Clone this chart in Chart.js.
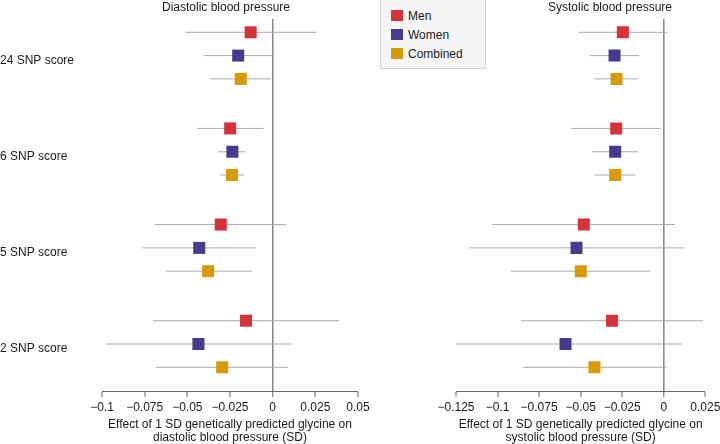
<!DOCTYPE html>
<html>
<head>
<meta charset="utf-8">
<script src="https://cdn.jsdelivr.net/npm/chart.js@4.4.0/dist/chart.umd.min.js"></script>
<style>
  html, body { margin: 0; padding: 0; background: #fff; }
  #wrap { position: relative; width: 720px; height: 444px; overflow: hidden; }
  canvas { position: absolute; top: 0; }
  #dbp { left: 0; }
  #sbp { left: 400px; }
  #legend {
    position: absolute; left: 380px; top: -1px; width: 106px; height: 70px;
    box-sizing: border-box; background: #f5f5f5; border: 1px solid #d6d6d6;
    font: 12px "Liberation Sans", Arial, sans-serif; color: #1a1a1a; z-index: 2;
  }
  .item { position: absolute; left: 10px; height: 14px; line-height: 14px; white-space: nowrap; }
  .sw { position: absolute; left: 0; top: 1px; width: 12px; height: 11px; }
  .lbl { position: absolute; left: 17px; top: 0; }
</style>
</head>
<body>
<div id="wrap">
  <canvas id="dbp" width="452" height="444"></canvas>
  <canvas id="sbp" width="420" height="444"></canvas>
  <div id="legend"></div>
</div>
<script>
const scores = ['24 SNP score', '6 SNP score', '5 SNP score', '2 SNP score'];
const seriesNames = ['Men', 'Women', 'Combined'];
const seriesColors = ['#d5323a', '#463c8f', '#d79b0a'];

// Diastolic blood pressure: estimates and confidence limits, one value per score
const dbpMen = [-0.0129, -0.0249, -0.0304, -0.0156];
const dbpMenLo = [-0.051, -0.0444, -0.069, -0.0702];
const dbpMenHi = [0.0254, -0.0054, 0.008, 0.039];
const dbpWomen = [-0.0202, -0.0236, -0.043, -0.0435];
const dbpWomenLo = [-0.0405, -0.0318, -0.0762, -0.0978];
const dbpWomenHi = [0.0004, -0.0161, -0.0097, 0.0109];
const dbpComb = [-0.0187, -0.0238, -0.0378, -0.0296];
const dbpCombLo = [-0.0364, -0.031, -0.0627, -0.0684];
const dbpCombHi = [-0.001, -0.0167, -0.0123, 0.0088];

// Systolic blood pressure
const sbpMen = [-0.0246, -0.0286, -0.0481, -0.0311];
const sbpMenLo = [-0.0513, -0.0557, -0.1032, -0.0858];
const sbpMenHi = [0.002, -0.0018, 0.0068, 0.0236];
const sbpWomen = [-0.0296, -0.0292, -0.0525, -0.0591];
const sbpWomenLo = [-0.0445, -0.0431, -0.117, -0.129];
const sbpWomenHi = [-0.0148, -0.0156, 0.0124, 0.011];
const sbpComb = [-0.0284, -0.0292, -0.0499, -0.0417];
const sbpCombLo = [-0.0415, -0.0415, -0.092, -0.0846];
const sbpCombHi = [-0.0156, -0.017, -0.008, 0.0016];

const dbpTicks = [-0.1, -0.075, -0.05, -0.025, 0, 0.025, 0.05];
const sbpTicks = [-0.125, -0.1, -0.075, -0.05, -0.025, 0, 0.025];

Chart.defaults.font.family = '"Liberation Sans", Arial, Helvetica, sans-serif';
Chart.defaults.font.size = 12;
Chart.defaults.color = '#1a1a1a';

// row layout: three rows per score, a wider gap between scores
const GROUP_GAP = 4.126;
const rowPos = (g, s) => g * GROUP_GAP + s;

const fmt = v => String(Number(v.toFixed(3))).replace('-', '\u2212');

function makePanel(id, p) {
    const datasets = [];
    // confidence interval whiskers
    seriesNames.forEach((_, s) => {
        scores.forEach((_, g) => {
            datasets.push({
                type: 'line',
                data: [
                    { x: p.lo[s][g], y: rowPos(g, s) },
                    { x: p.hi[s][g], y: rowPos(g, s) }
                ],
                borderColor: '#aaaaaa',
                borderWidth: 1,
                pointRadius: 0,
                fill: false,
                order: 2
            });
        });
    });
    // point estimates
    seriesNames.forEach((name, s) => {
        datasets.push({
            type: 'scatter',
            label: name,
            data: scores.map((_, g) => ({ x: p.est[s][g], y: rowPos(g, s) })),
            pointStyle: 'rect',
            pointRadius: 8.5,
            backgroundColor: seriesColors[s],
            borderWidth: 0,
            order: 1
        });
    });

    new Chart(document.getElementById(id), {
        type: 'scatter',
        data: { datasets },
        options: {
            responsive: false,
            animation: false,
            events: [],
            layout: { padding: 0 },
            plugins: {
                legend: { display: false },
                tooltip: { enabled: false },
                title: {
                    display: true,
                    text: p.title,
                    font: { size: 12, weight: 'normal' },
                    color: '#1a1a1a',
                    padding: { top: 0, bottom: 4.6 }
                }
            },
            scales: {
                x: {
                    type: 'linear',
                    offset: false,
                    min: p.ticks[0],
                    max: p.ticks[p.ticks.length - 1],
                    afterBuildTicks: sc => { sc.ticks = p.ticks.map(v => ({ value: v })); },
                    afterFit: sc => { sc.height = 53; },
                    ticks: { callback: v => fmt(v), padding: 3, maxRotation: 0, autoSkip: false, color: '#1a1a1a' },
                    grid: {
                        offset: false,
                        color: c => (c.tick && c.tick.value === 0 ? '#8c8c8c' : 'rgba(0,0,0,0)'),
                        lineWidth: c => (c.tick && c.tick.value === 0 ? 1.6 : 0),
                        tickColor: '#666',
                        tickWidth: 1,
                        tickLength: 6
                    },
                    border: { display: true, color: '#666', width: 1 },
                    title: {
                        display: true,
                        text: p.xTitle,
                        font: { size: 12, lineHeight: 13 / 12 },
                        color: '#1a1a1a',
                        padding: { top: 4, bottom: 0 }
                    }
                },
                y: {
                    type: 'linear',
                    offset: false,
                    reverse: true,
                    min: -0.571,
                    max: 15.395,
                    afterBuildTicks: sc => { sc.ticks = scores.map((_, g) => ({ value: rowPos(g, 1) })); },
                    afterFit: sc => { sc.width = p.leftWidth; },
                    ticks: {
                        display: p.showLabels,
                        callback: (v, i) => scores[i],
                        crossAlign: 'far',
                        labelOffset: 5,
                        padding: 0,
                        color: '#1a1a1a'
                    },
                    grid: { display: false },
                    border: { display: false }
                },
                y2: {
                    type: 'linear',
                    position: 'right',
                    afterFit: sc => { sc.width = p.rightWidth; },
                    ticks: { display: false },
                    grid: { display: false },
                    border: { display: false }
                }
            }
        }
    });
}

makePanel('dbp', {
    title: 'Diastolic blood pressure',
    xTitle: ['Effect of 1 SD genetically predicted glycine on', 'diastolic blood pressure (SD)'],
    ticks: dbpTicks,
    est: [dbpMen, dbpWomen, dbpComb],
    lo: [dbpMenLo, dbpWomenLo, dbpCombLo],
    hi: [dbpMenHi, dbpWomenHi, dbpCombHi],
    showLabels: true,
    leftWidth: 102,
    rightWidth: 94
});

makePanel('sbp', {
    title: 'Systolic blood pressure',
    xTitle: ['Effect of 1 SD genetically predicted glycine on', 'systolic blood pressure (SD)'],
    ticks: sbpTicks,
    est: [sbpMen, sbpWomen, sbpComb],
    lo: [sbpMenLo, sbpWomenLo, sbpCombLo],
    hi: [sbpMenHi, sbpWomenHi, sbpCombHi],
    showLabels: false,
    leftWidth: 56,
    rightWidth: 114.7
});

// legend box
const legend = document.getElementById('legend');
seriesNames.forEach((name, s) => {
    const item = document.createElement('div');
    item.className = 'item';
    item.style.top = (9 + s * 19.2) + 'px';
    item.innerHTML = '<span class="sw" style="background:' + seriesColors[s] + '"></span><span class="lbl">' + name + '</span>';
    legend.appendChild(item);
});
</script>
</body>
</html>
